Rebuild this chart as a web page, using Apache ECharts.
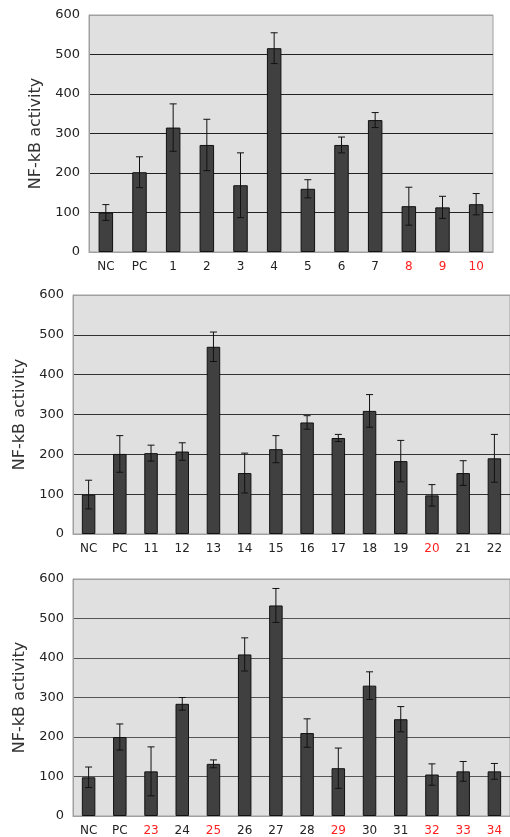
<!DOCTYPE html>
<html>
<head>
<meta charset="utf-8">
<script src="https://cdn.jsdelivr.net/npm/echarts@6/dist/echarts.min.js"></script>
<style>
  html, body { margin: 0; padding: 0; background: #fff; }
  #chart { width: 510px; height: 837px; }
</style>
</head>
<body>
<div id="chart"></div>
<script>
// NF-kB activity per sample, three panels (mean and error)
const cats1 = ['NC', 'PC', '1', '2', '3', '4', '5', '6', '7', '8', '9', '10'];
const means1 = [100, 202, 315, 271, 169, 516, 160, 271, 334, 116, 113, 121];
const errs1 = [20, 39, 60, 65, 82, 39, 23, 20, 19, 48, 28, 27];
const red1 = ['8', '9', '10'];

const cats2 = ['NC', 'PC', '11', '12', '13', '14', '15', '16', '17', '18', '19', '20', '21', '22'];
const means2 = [99, 201, 203, 207, 470, 153, 213, 280, 241, 309, 183, 97, 153, 190];
const errs2 = [36, 46, 20, 22, 37, 50, 34, 17, 9, 41, 52, 27, 31, 60];
const red2 = ['20'];

const cats3 = ['NC', 'PC', '23', '24', '25', '26', '27', '28', '29', '30', '31', '32', '33', '34'];
const means3 = [98, 200, 113, 284, 132, 409, 533, 210, 121, 330, 245, 105, 113, 113];
const errs3 = [26, 33, 62, 16, 10, 42, 43, 36, 51, 35, 32, 27, 25, 20];
const red3 = ['23', '25', '29', '32', '33', '34'];

const yTicks = [0, 100, 200, 300, 400, 500, 600];

const FONT = 'DejaVu Sans';

const panels = [
  { cats: cats1, means: means1, errs: errs1, red: red1, grid: { left: 89, top: 15, width: 404, height: 237 }, barW: 14.5, gridColor: '#222', nameGap: 41 },
  { cats: cats2, means: means2, errs: errs2, red: red2, grid: { left: 73, top: 295, width: 444, height: 239 }, barW: 13.5, gridColor: '#333', nameGap: 45 },
  { cats: cats3, means: means3, errs: errs3, red: red3, grid: { left: 73, top: 579, width: 443, height: 238 }, barW: 13.5, gridColor: '#555', nameGap: 45 }
];

const grids = [], xAxes = [], yAxes = [], series = [];

panels.forEach((p, i) => {
  grids.push(Object.assign({
    show: true,
    backgroundColor: '#e0e0e0',
    borderColor: '#a0a0a0',
    borderWidth: 1
  }, p.grid));

  xAxes.push({
    type: 'category',
    gridIndex: i,
    data: p.cats,
    axisLine: { show: true, lineStyle: { color: '#a0a0a0', width: 1 } },
    axisTick: { show: false },
    axisLabel: {
      fontFamily: FONT,
      fontSize: 12,
      margin: 9,
      color: (val) => p.red.includes(val) ? '#ff2020' : '#222'
    }
  });

  // top split line sits on the plot border and keeps its grey colour
  const splitColors = yTicks.map((t, k) => (k === 0 || k === yTicks.length - 1) ? '#a0a0a0' : p.gridColor);

  yAxes.push({
    type: 'value',
    gridIndex: i,
    min: 0,
    max: 600,
    interval: 100,
    name: 'NF-kB activity',
    nameLocation: 'middle',
    nameGap: p.nameGap,
    nameTextStyle: { fontFamily: FONT, fontSize: 16, color: '#333' },
    axisLine: { show: true, lineStyle: { color: '#a0a0a0', width: 1 } },
    axisTick: { show: false },
    axisLabel: { fontFamily: FONT, fontSize: 13, color: '#222', margin: 9 },
    splitLine: { show: true, lineStyle: { color: splitColors, width: 1 } }
  });

  series.push({
    type: 'bar',
    xAxisIndex: i,
    yAxisIndex: i,
    data: p.means,
    barWidth: p.barW,
    itemStyle: { color: '#404040', borderColor: '#111', borderWidth: 1 },
    z: 2
  });

  series.push({
    type: 'custom',
    xAxisIndex: i,
    yAxisIndex: i,
    data: p.means.map((m, k) => [k, m, p.errs[k]]),
    z: 3,
    renderItem: (params, api) => {
      const x = api.value(0);
      const m = api.value(1);
      const e = api.value(2);
      const hi = api.coord([x, m + e]);
      const lo = api.coord([x, m - e]);
      const cap = 3.5;
      const style = { stroke: '#111', lineWidth: 1 };
      return {
        type: 'group',
        children: [
          { type: 'line', shape: { x1: hi[0], y1: hi[1], x2: lo[0], y2: lo[1] }, style },
          { type: 'line', shape: { x1: hi[0] - cap, y1: hi[1], x2: hi[0] + cap, y2: hi[1] }, style },
          { type: 'line', shape: { x1: lo[0] - cap, y1: lo[1], x2: lo[0] + cap, y2: lo[1] }, style }
        ]
      };
    }
  });
});

const chart = echarts.init(document.getElementById('chart'), null, { renderer: 'canvas' });
chart.setOption({
  animation: false,
  backgroundColor: '#fff',
  grid: grids,
  xAxis: xAxes,
  yAxis: yAxes,
  series: series
});
</script>
</body>
</html>
